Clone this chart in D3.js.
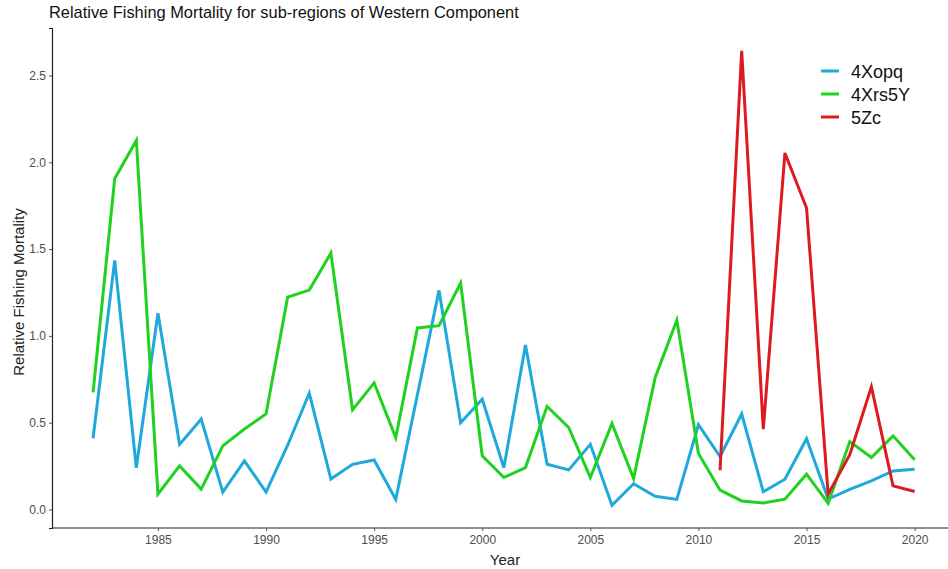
<!DOCTYPE html>
<html>
<head>
<meta charset="utf-8">
<script src="https://cdn.jsdelivr.net/npm/d3@7"></script>
<style>
  body { margin: 0; background: #fff; }
  svg { font-family: "Liberation Sans", Arial, sans-serif; }
</style>
</head>
<body>
<svg></svg>
<script>
const width = 948;
const height = 569;

const years = d3.range(1982, 2021);
const xopq = [0.41, 1.435, 0.24, 1.13, 0.375, 0.52, 0.10, 0.28, 0.10, 0.37, 0.67, 0.175,
  0.26, 0.285, 0.058, 0.66, 1.262, 0.50, 0.635, 0.24, 0.948, 0.26, 0.228, 0.375,
  0.024, 0.148, 0.076, 0.058, 0.488, 0.305, 0.55, 0.102, 0.174, 0.407, 0.06,
  0.115, 0.165, 0.222, 0.232];
const xrs5y = [0.674, 1.906, 2.126, 0.088, 0.251, 0.117, 0.366, 0.463, 0.55, 1.223,
  1.264, 1.477, 0.574, 0.729, 0.413, 1.046, 1.059, 1.304, 0.309, 0.184, 0.241,
  0.594, 0.472, 0.184, 0.495, 0.178, 0.761, 1.09, 0.322, 0.111, 0.049, 0.037,
  0.059, 0.203, 0.035, 0.391, 0.299, 0.424, 0.286];
const zcYears = d3.range(2011, 2021);
const zc = [0.226, 2.643, 0.463, 2.054, 1.737, 0.088, 0.315, 0.707, 0.136, 0.103];

const seriesNames = ["4Xopq", "4Xrs5Y", "5Zc"];
const seriesColors = ["#1fa9db", "#1fd21f", "#dd1a1e"];
const xTicks = [1985, 1990, 1995, 2000, 2005, 2010, 2015, 2020];
const yTicks = [0, 0.5, 1, 1.5, 2, 2.5];

const series = [
  { name: seriesNames[0], pts: years.map((y, i) => [y, xopq[i]]) },
  { name: seriesNames[1], pts: years.map((y, i) => [y, xrs5y[i]]) },
  { name: seriesNames[2], pts: zcYears.map((y, i) => [y, zc[i]]) }
];

const panel = { left: 52, top: 28, bottom: 528 };

// ggplot style 5% expansion
const allY = xopq.concat(xrs5y, zc);
const yMin = d3.min(allY), yMax = d3.max(allY);
const yPad = (yMax - yMin) * 0.05;
const xPad = (2020 - 1982) * 0.05;

const x = d3.scaleLinear()
  .domain([1982 - xPad, 2020 + xPad])
  .range([panel.left, panel.left + 41.8 * 21.62]);

const y = d3.scaleLinear()
  .domain([yMin - yPad, yMax + yPad])
  .range([panel.bottom, panel.top]);

const svg = d3.select('svg')
  .attr('width', width)
  .attr('height', height);

svg.append('text')
  .attr('x', 49)
  .attr('y', 18)
  .attr('font-size', '16.4px')
  .attr('fill', '#111')
  .text('Relative Fishing Mortality for sub-regions of Western Component');

const xAxis = svg.append('g')
  .attr('transform', `translate(0,${panel.bottom})`)
  .call(d3.axisBottom(x).tickValues(xTicks).tickFormat(d3.format('d')).tickSizeOuter(0).tickSize(3).tickPadding(4));
xAxis.select('.domain').attr('stroke', '#222').attr('stroke-width', 1.2)
  .attr('d', `M${panel.left},0H${width}`);
xAxis.selectAll('.tick line').attr('stroke', '#555');
xAxis.selectAll('.tick text').attr('font-size', '12px').attr('fill', '#4d4d4d');

const yAxis = svg.append('g')
  .attr('transform', `translate(${panel.left},0)`)
  .call(d3.axisLeft(y).tickValues(yTicks).tickFormat(d3.format('.1f')).tickSizeOuter(0).tickSize(3).tickPadding(3));
yAxis.select('.domain').attr('stroke', '#222').attr('stroke-width', 1.2);
yAxis.selectAll('.tick line').attr('stroke', '#555');
yAxis.selectAll('.tick text').attr('font-size', '12px').attr('fill', '#4d4d4d');

svg.append('text')
  .attr('x', 505)
  .attr('y', 565)
  .attr('text-anchor', 'middle')
  .attr('font-size', '15px')
  .attr('fill', '#222')
  .text('Year');

svg.append('text')
  .attr('transform', 'translate(24,292) rotate(-90)')
  .attr('text-anchor', 'middle')
  .attr('font-size', '15px')
  .attr('fill', '#222')
  .text('Relative Fishing Mortality');

const line = d3.line()
  .x(d => x(d[0]))
  .y(d => y(d[1]));

svg.append('g')
  .selectAll('path')
  .data(series)
  .enter().append('path')
    .attr('d', d => line(d.pts))
    .attr('fill', 'none')
    .attr('stroke', (d, i) => seriesColors[i])
    .attr('stroke-width', 3)
    .attr('stroke-linejoin', 'miter');

const legend = svg.append('g')
  .attr('transform', 'translate(821,71)');

const items = legend.selectAll('g')
  .data(seriesNames)
  .enter().append('g')
    .attr('transform', (d, i) => `translate(0,${i * 23})`);

items.append('line')
  .attr('x1', 0).attr('x2', 18)
  .attr('stroke', (d, i) => seriesColors[i])
  .attr('stroke-width', 3);

items.append('text')
  .attr('x', 30)
  .attr('y', 6.5)
  .attr('font-size', '18px')
  .attr('fill', '#111')
  .text(d => d);
</script>
</body>
</html>
